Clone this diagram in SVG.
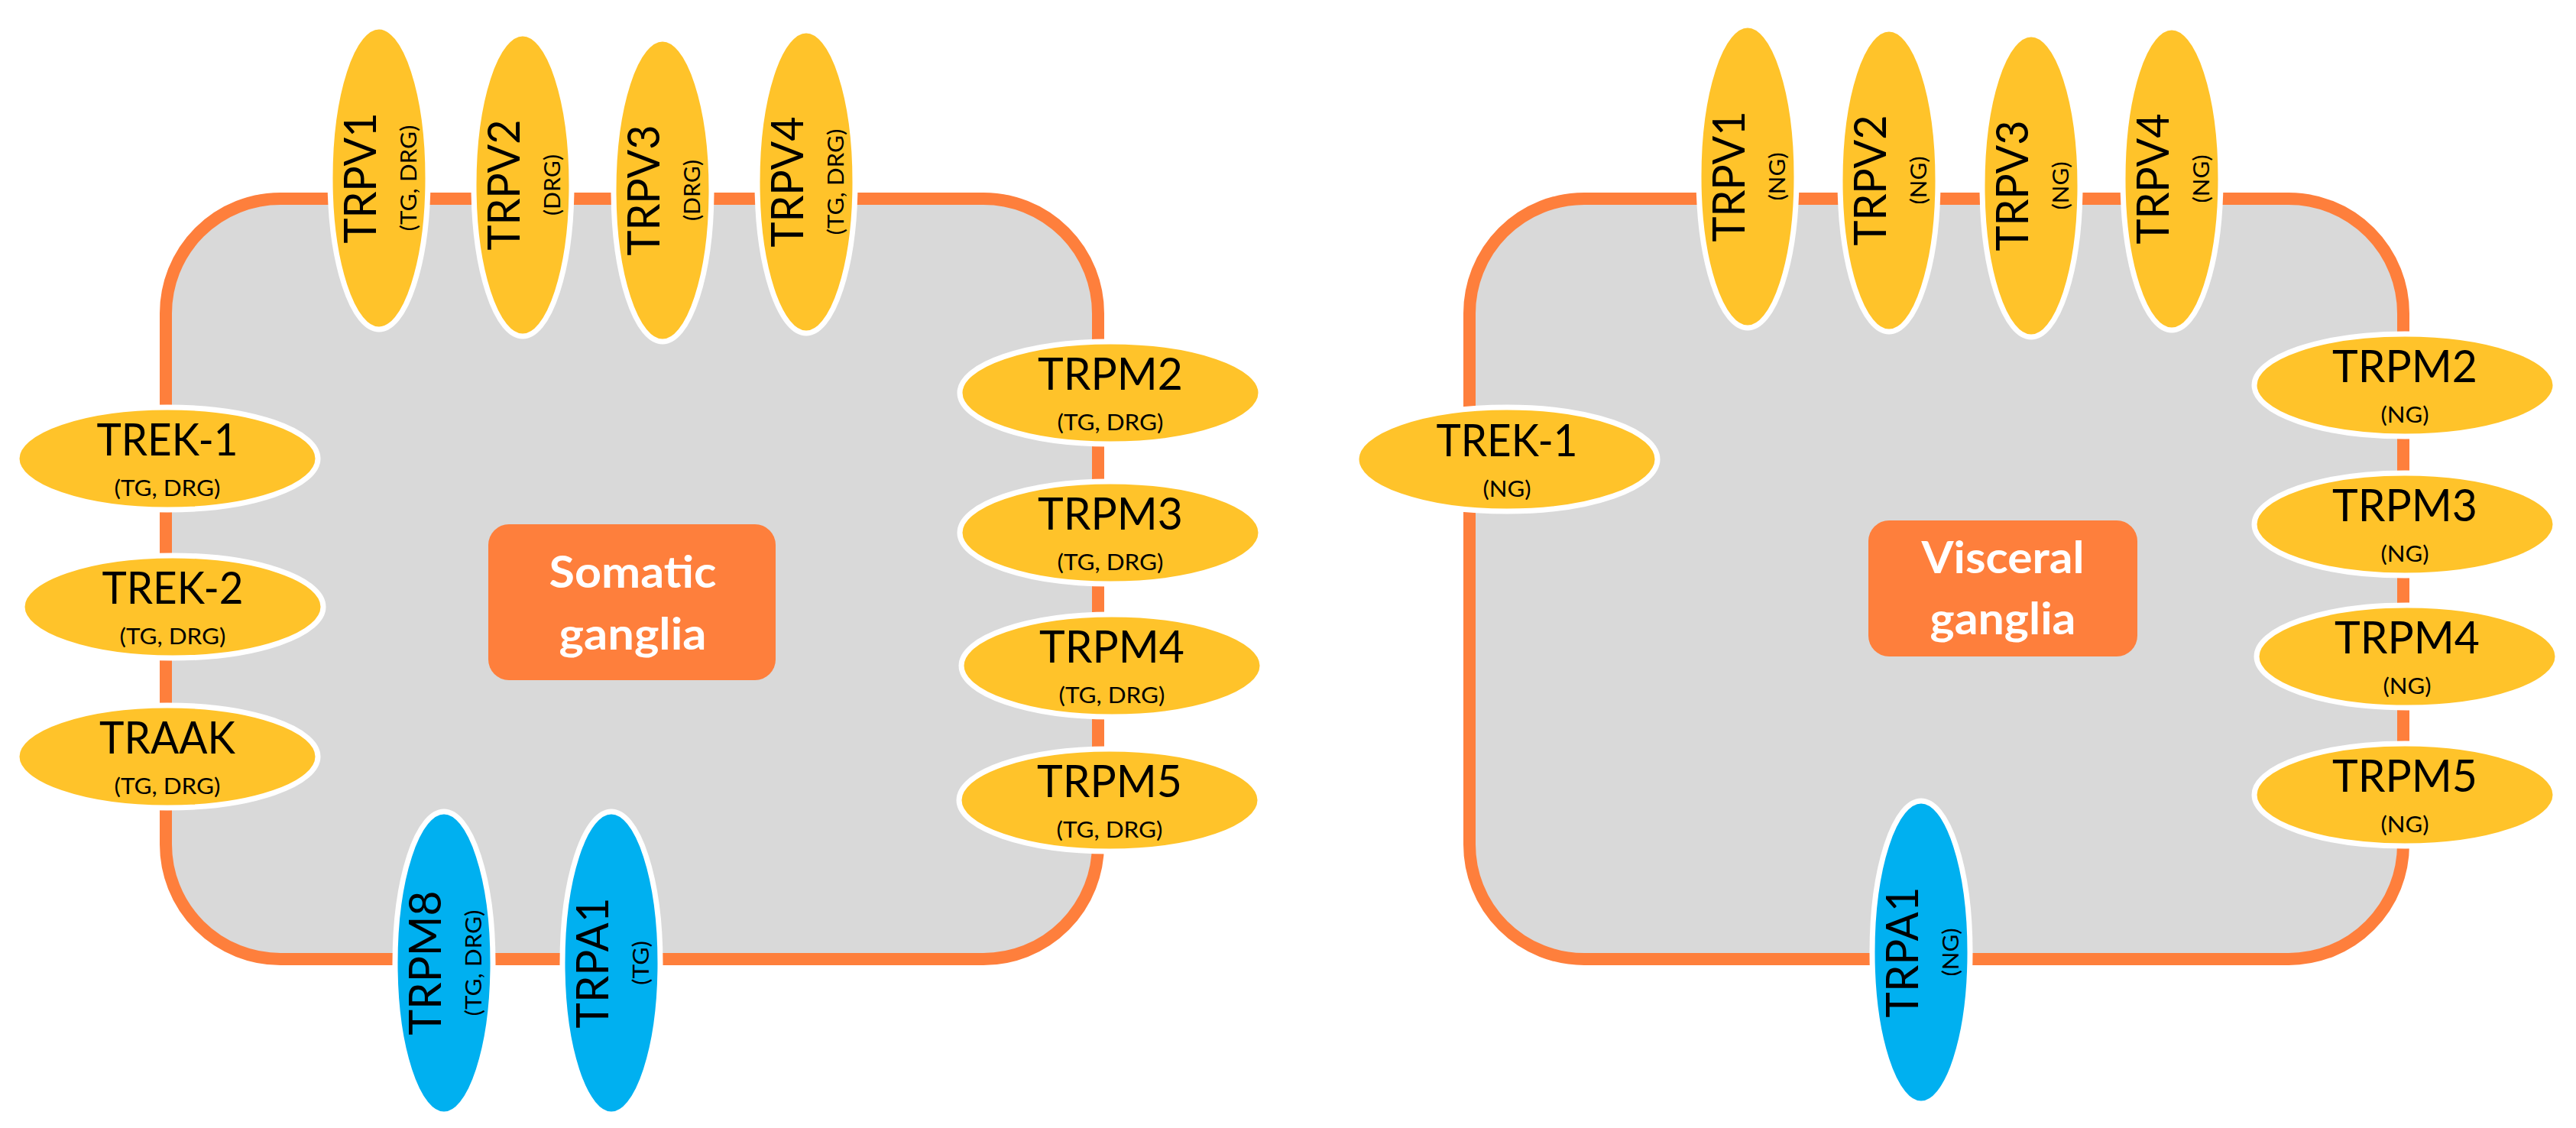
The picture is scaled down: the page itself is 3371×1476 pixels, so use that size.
<svg xmlns="http://www.w3.org/2000/svg" width="3371" height="1476" viewBox="0 0 3371 1476">
<style>
.bg{fill:#FFFFFF}
.cell{fill:#D9D9D9;stroke:#FE7F3C;stroke-width:16}
.box{fill:#FE7F3C}
.ch{fill:#FFC32A;stroke:#FFFFFF;stroke-width:7}
.cb{fill:#00B0F0;stroke:#FFFFFF;stroke-width:7}
.lbl{font-family:Lato,"Liberation Sans",sans-serif;font-size:59px;fill:#000000;text-anchor:middle}
.sub{font-family:Lato,"Liberation Sans",sans-serif;font-size:29px;fill:#000000;text-anchor:middle}
.bt{font-family:Lato,"Liberation Sans",sans-serif;font-weight:700;font-size:58px;fill:#FFFFFF;text-anchor:middle}
</style>
<rect class="bg" x="0" y="0" width="3371" height="1476"/>
<g id="connectors"/>

<!-- Somatic cell -->
<g id="somatic-cell">
<rect class="cell" x="217" y="260" width="1220" height="995" rx="150" ry="150"/>
<rect class="box" x="639" y="686" width="376" height="204" rx="27" ry="27"/>
<text class="bt" x="828" y="769" textLength="219" lengthAdjust="spacingAndGlyphs">Somatic</text>
<text class="bt" x="828" y="850" textLength="193" lengthAdjust="spacingAndGlyphs">ganglia</text>
</g>

<!-- Visceral cell -->
<g id="visceral-cell">
<rect class="cell" x="1923" y="260" width="1222" height="995" rx="150" ry="150"/>
<rect class="box" x="2445" y="681" width="352" height="178" rx="27" ry="27"/>
<text class="bt" x="2621" y="750" textLength="213" lengthAdjust="spacingAndGlyphs">Visceral</text>
<text class="bt" x="2621" y="830" textLength="191" lengthAdjust="spacingAndGlyphs">ganglia</text>
</g>

<!-- Somatic top -->
<g id="s-trpv1" transform="translate(496,233)"><ellipse class="ch" rx="64" ry="198"/><g transform="rotate(-90)"><text class="lbl" y="-4" textLength="171" lengthAdjust="spacingAndGlyphs">TRPV1</text><text class="sub" y="49" textLength="139" lengthAdjust="spacingAndGlyphs">(TG, DRG)</text></g></g>
<g id="s-trpv2" transform="translate(684,242)"><ellipse class="ch" rx="64" ry="198"/><g transform="rotate(-90)"><text class="lbl" y="-4" textLength="171" lengthAdjust="spacingAndGlyphs">TRPV2</text><text class="sub" y="49" textLength="80" lengthAdjust="spacingAndGlyphs">(DRG)</text></g></g>
<g id="s-trpv3" transform="translate(867,249)"><ellipse class="ch" rx="64" ry="198"/><g transform="rotate(-90)"><text class="lbl" y="-4" textLength="171" lengthAdjust="spacingAndGlyphs">TRPV3</text><text class="sub" y="49" textLength="80" lengthAdjust="spacingAndGlyphs">(DRG)</text></g></g>
<g id="s-trpv4" transform="translate(1055,238)"><ellipse class="ch" rx="64" ry="198"/><g transform="rotate(-90)"><text class="lbl" y="-4" textLength="171" lengthAdjust="spacingAndGlyphs">TRPV4</text><text class="sub" y="49" textLength="139" lengthAdjust="spacingAndGlyphs">(TG, DRG)</text></g></g>

<!-- Somatic left -->
<g id="s-trek1" transform="translate(219,600)"><ellipse class="ch" rx="197" ry="67"/><text class="lbl" y="-4" textLength="185" lengthAdjust="spacingAndGlyphs">TREK-1</text><text class="sub" y="49" textLength="139" lengthAdjust="spacingAndGlyphs">(TG, DRG)</text></g>
<g id="s-trek2" transform="translate(226,794)"><ellipse class="ch" rx="197" ry="67"/><text class="lbl" y="-4" textLength="185" lengthAdjust="spacingAndGlyphs">TREK-2</text><text class="sub" y="49" textLength="139" lengthAdjust="spacingAndGlyphs">(TG, DRG)</text></g>
<g id="s-traak" transform="translate(219,990)"><ellipse class="ch" rx="197" ry="67"/><text class="lbl" y="-4" textLength="178" lengthAdjust="spacingAndGlyphs">TRAAK</text><text class="sub" y="49" textLength="139" lengthAdjust="spacingAndGlyphs">(TG, DRG)</text></g>

<!-- Somatic right -->
<g id="s-trpm2" transform="translate(1453,514)"><ellipse class="ch" rx="197" ry="67"/><text class="lbl" y="-4" textLength="190" lengthAdjust="spacingAndGlyphs">TRPM2</text><text class="sub" y="49" textLength="139" lengthAdjust="spacingAndGlyphs">(TG, DRG)</text></g>
<g id="s-trpm3" transform="translate(1453,697)"><ellipse class="ch" rx="197" ry="67"/><text class="lbl" y="-4" textLength="190" lengthAdjust="spacingAndGlyphs">TRPM3</text><text class="sub" y="49" textLength="139" lengthAdjust="spacingAndGlyphs">(TG, DRG)</text></g>
<g id="s-trpm4" transform="translate(1455,871)"><ellipse class="ch" rx="197" ry="67"/><text class="lbl" y="-4" textLength="190" lengthAdjust="spacingAndGlyphs">TRPM4</text><text class="sub" y="49" textLength="139" lengthAdjust="spacingAndGlyphs">(TG, DRG)</text></g>
<g id="s-trpm5" transform="translate(1452,1047)"><ellipse class="ch" rx="197" ry="67"/><text class="lbl" y="-4" textLength="190" lengthAdjust="spacingAndGlyphs">TRPM5</text><text class="sub" y="49" textLength="139" lengthAdjust="spacingAndGlyphs">(TG, DRG)</text></g>

<!-- Somatic bottom -->
<g id="s-trpm8" transform="translate(581,1260)"><ellipse class="cb" rx="64" ry="198"/><g transform="rotate(-90)"><text class="lbl" y="-4" textLength="189" lengthAdjust="spacingAndGlyphs">TRPM8</text><text class="sub" y="49" textLength="139" lengthAdjust="spacingAndGlyphs">(TG, DRG)</text></g></g>
<g id="s-trpa1" transform="translate(800,1260)"><ellipse class="cb" rx="64" ry="198"/><g transform="rotate(-90)"><text class="lbl" y="-4" textLength="171" lengthAdjust="spacingAndGlyphs">TRPA1</text><text class="sub" y="49" textLength="58" lengthAdjust="spacingAndGlyphs">(TG)</text></g></g>

<!-- Visceral top -->
<g id="v-trpv1" transform="translate(2287,231)"><ellipse class="ch" rx="64" ry="198"/><g transform="rotate(-90)"><text class="lbl" y="-4" textLength="171" lengthAdjust="spacingAndGlyphs">TRPV1</text><text class="sub" y="49" textLength="63" lengthAdjust="spacingAndGlyphs">(NG)</text></g></g>
<g id="v-trpv2" transform="translate(2472,236)"><ellipse class="ch" rx="64" ry="198"/><g transform="rotate(-90)"><text class="lbl" y="-4" textLength="171" lengthAdjust="spacingAndGlyphs">TRPV2</text><text class="sub" y="49" textLength="63" lengthAdjust="spacingAndGlyphs">(NG)</text></g></g>
<g id="v-trpv3" transform="translate(2658,243)"><ellipse class="ch" rx="64" ry="198"/><g transform="rotate(-90)"><text class="lbl" y="-4" textLength="171" lengthAdjust="spacingAndGlyphs">TRPV3</text><text class="sub" y="49" textLength="63" lengthAdjust="spacingAndGlyphs">(NG)</text></g></g>
<g id="v-trpv4" transform="translate(2842,234)"><ellipse class="ch" rx="64" ry="198"/><g transform="rotate(-90)"><text class="lbl" y="-4" textLength="171" lengthAdjust="spacingAndGlyphs">TRPV4</text><text class="sub" y="49" textLength="63" lengthAdjust="spacingAndGlyphs">(NG)</text></g></g>

<!-- Visceral left -->
<g id="v-trek1" transform="translate(1972,601)"><ellipse class="ch" rx="197" ry="68"/><text class="lbl" y="-4" textLength="185" lengthAdjust="spacingAndGlyphs">TREK-1</text><text class="sub" y="49" textLength="63" lengthAdjust="spacingAndGlyphs">(NG)</text></g>

<!-- Visceral right -->
<g id="v-trpm2" transform="translate(3147,504)"><ellipse class="ch" rx="197" ry="67"/><text class="lbl" y="-4" textLength="190" lengthAdjust="spacingAndGlyphs">TRPM2</text><text class="sub" y="49" textLength="63" lengthAdjust="spacingAndGlyphs">(NG)</text></g>
<g id="v-trpm3" transform="translate(3147,686)"><ellipse class="ch" rx="197" ry="67"/><text class="lbl" y="-4" textLength="190" lengthAdjust="spacingAndGlyphs">TRPM3</text><text class="sub" y="49" textLength="63" lengthAdjust="spacingAndGlyphs">(NG)</text></g>
<g id="v-trpm4" transform="translate(3150,859)"><ellipse class="ch" rx="197" ry="67"/><text class="lbl" y="-4" textLength="190" lengthAdjust="spacingAndGlyphs">TRPM4</text><text class="sub" y="49" textLength="63" lengthAdjust="spacingAndGlyphs">(NG)</text></g>
<g id="v-trpm5" transform="translate(3147,1040)"><ellipse class="ch" rx="197" ry="67"/><text class="lbl" y="-4" textLength="190" lengthAdjust="spacingAndGlyphs">TRPM5</text><text class="sub" y="49" textLength="63" lengthAdjust="spacingAndGlyphs">(NG)</text></g>

<!-- Visceral bottom -->
<g id="v-trpa1" transform="translate(2514,1246)"><ellipse class="cb" rx="64" ry="198"/><g transform="rotate(-90)"><text class="lbl" y="-4" textLength="171" lengthAdjust="spacingAndGlyphs">TRPA1</text><text class="sub" y="49" textLength="63" lengthAdjust="spacingAndGlyphs">(NG)</text></g></g>
</svg>
